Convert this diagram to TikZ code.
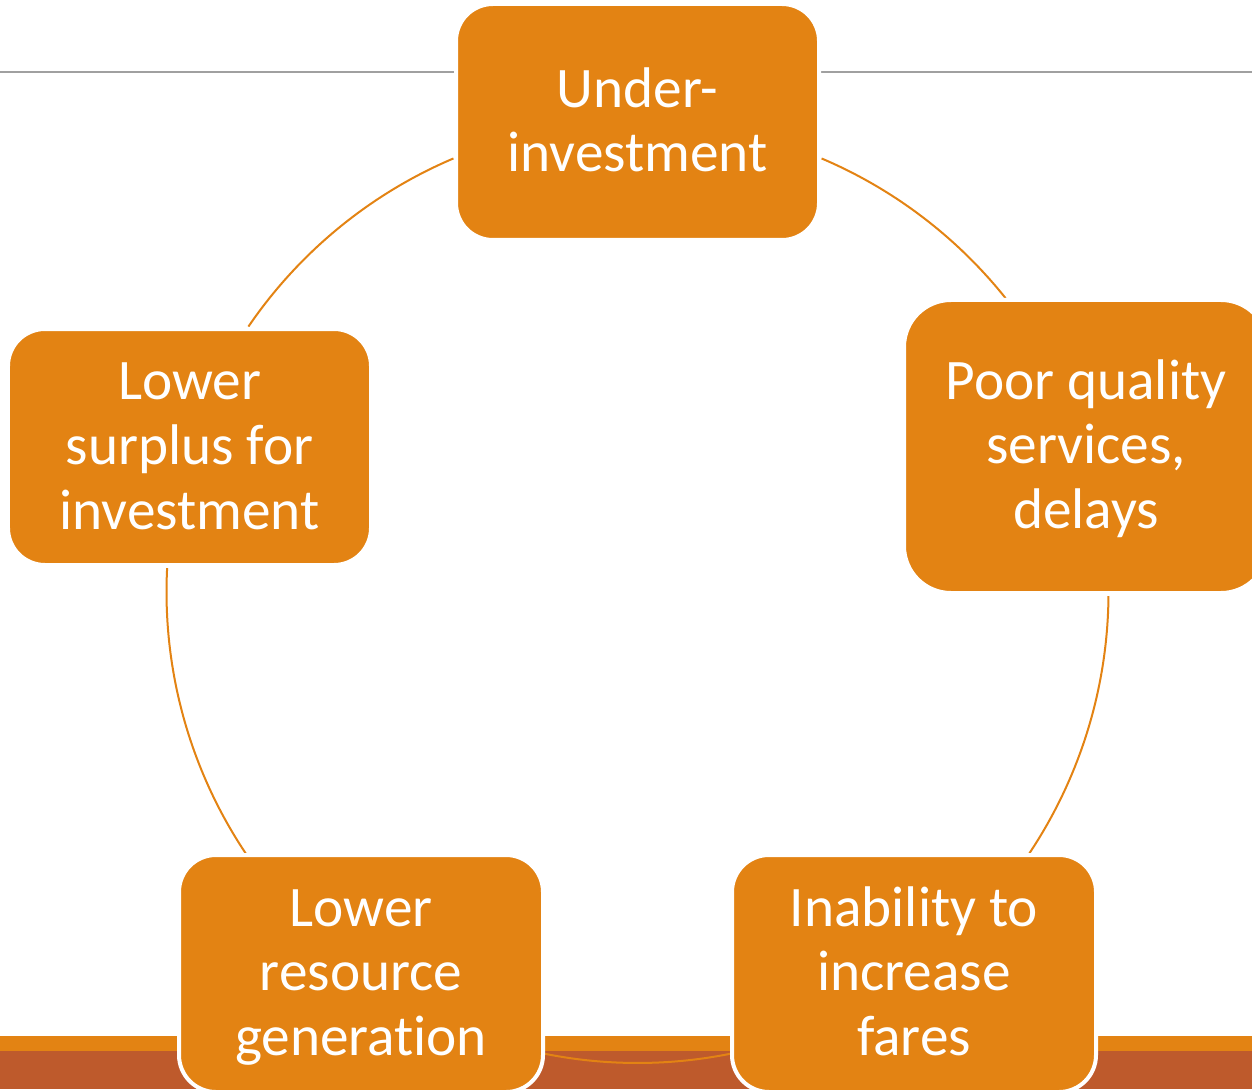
\documentclass[tikz,border=0pt]{standalone}
\usepackage{fontspec}
\setmainfont[Ligatures=NoCommon]{Carlito}
\usetikzlibrary{calc}
\definecolor{boxorange}{RGB}{227,131,19}
\definecolor{rust}{RGB}{190,90,44}
\definecolor{rulegray}{RGB}{160,160,160}
\newcommand\bxstrut{\rule[-8.5pt]{0pt}{36.9pt}}
\begin{document}
\begin{tikzpicture}[
  cyclebox/.style={draw=white, line width=0.08cm, fill=boxorange, rounded corners=0.74cm,
    minimum width=7.26cm, minimum height=4.72cm, inner sep=0pt, align=center, text=white,
    font=\fontsize{32.6}{36.9}\selectfont},
  bigbox/.style={cyclebox, rounded corners=0.94cm, minimum width=7.28cm, minimum height=5.86cm},
  conn/.style={draw=boxorange, line width=0.04cm},
  rulestyle/.style={draw=rulegray, line width=0.03cm}
]
\useasboundingbox (0,0) rectangle (25.04,21.78);
\clip (0,0) rectangle (25.04,21.78);
% bottom band
\fill[rust] (0,0) rectangle (25.04,0.76);
\fill[boxorange] (0,0.76) rectangle (25.04,1.06);
% top rule
\coordinate (rl) at (0,20.34);
\coordinate (rr) at (25.04,20.34);
\draw[rulestyle] (rl) -- (rr);
% cycle connectors
\coordinate (C) at (12.75,9.94);
\def\R{9.42cm}
\draw[conn] ($(C)+(67.0:\R)$) arc[start angle=67.0, end angle=38.6, radius=\R];
\draw[conn] ($(C)+(-0.5:\R)$) arc[start angle=-0.5, end angle=-33.7, radius=\R];
\draw[conn] ($(C)+(-78.6:\R)$) arc[start angle=-78.6, end angle=-101.4, radius=\R];
\draw[conn] ($(C)+(-146.3:\R)$) arc[start angle=-146.3, end angle=-182.9, radius=\R];
\draw[conn] ($(C)+(145.7:\R)$) arc[start angle=145.7, end angle=113.0, radius=\R];
% boxes
\node[cyclebox] (under) at (12.75,19.34) {\bxstrut Under-\\investment\bxstrut};
\node[bigbox] (poor) at (21.72,12.85) {\bxstrut Poor quality\\services,\\delays\bxstrut};
\node[cyclebox, minimum width=7.28cm, minimum height=4.74cm] (inab) at (18.28,2.31) {\bxstrut Inability to\\increase\\fares\bxstrut};
\node[cyclebox, minimum width=7.28cm, minimum height=4.74cm] (res) at (7.22,2.31) {\bxstrut Lower\\resource\\generation\bxstrut};
\node[cyclebox] (surp) at (3.79,12.84) {\bxstrut Lower\\surplus for\\investment\bxstrut};
\end{tikzpicture}
\end{document}
